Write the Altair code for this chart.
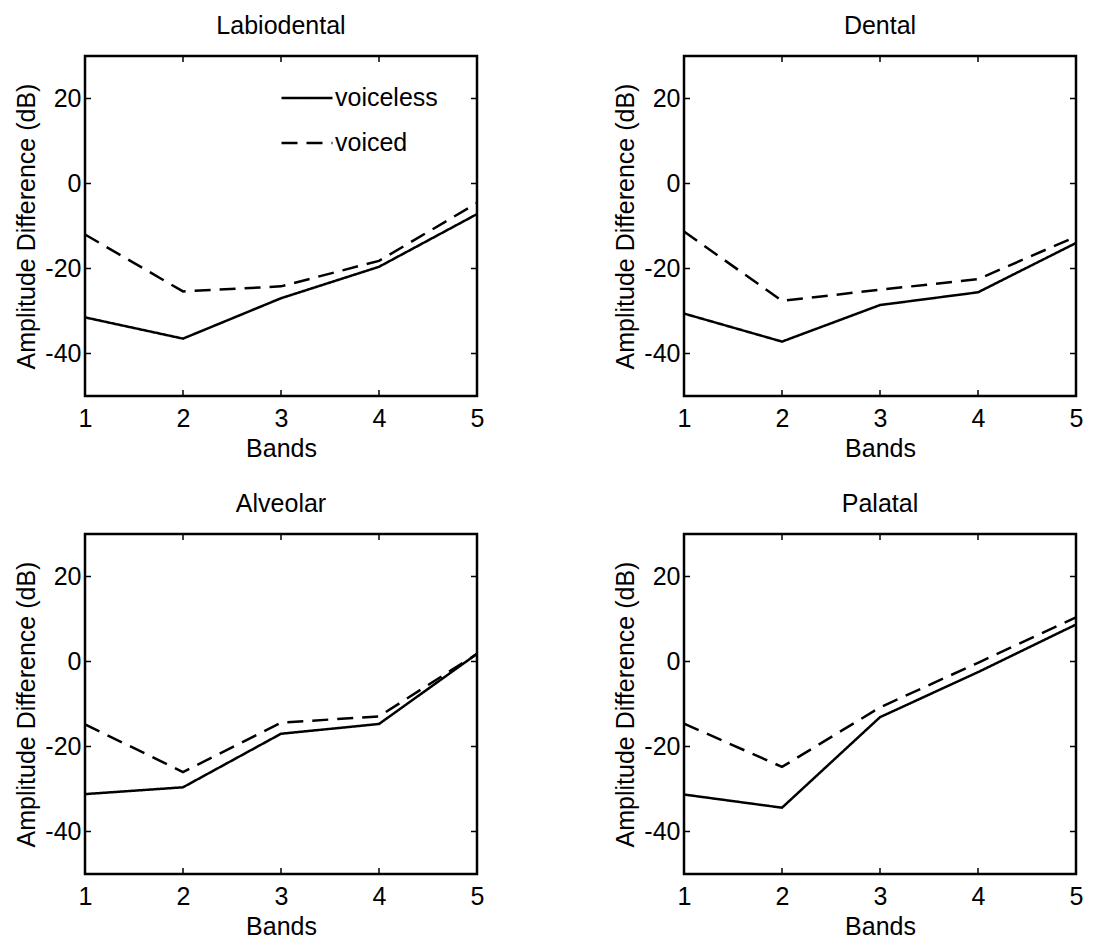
import altair as alt
import pandas as pd

# ---- data ----
bands = [1, 2, 3, 4, 5]
series_names = ["voiceless", "voiced"]
y_ticks = [-40, -20, 0, 20]

labiodental_voiceless = [-31.5, -36.5, -27.0, -19.6, -7.2]
labiodental_voiced = [-12.0, -25.4, -24.2, -18.2, -4.6]
dental_voiceless = [-30.6, -37.2, -28.6, -25.6, -14.0]
dental_voiced = [-11.3, -27.6, -25.0, -22.5, -12.5]
alveolar_voiceless = [-31.2, -29.6, -17.0, -14.7, 1.8]
alveolar_voiced = [-14.8, -26.0, -14.4, -12.9, 1.8]
palatal_voiceless = [-31.3, -34.4, -13.1, -2.5, 8.7]
palatal_voiced = [-14.6, -24.8, -10.8, -0.3, 10.4]

panels = [
    ("Labiodental", labiodental_voiceless, labiodental_voiced),
    ("Dental", dental_voiceless, dental_voiced),
    ("Alveolar", alveolar_voiceless, alveolar_voiced),
    ("Palatal", palatal_voiceless, palatal_voiced),
]

W, H = 392, 340
FONT = "Liberation Sans"
FS = 25


def panel(name, voiceless, voiced, show_legend):
    df = pd.DataFrame({
        "band": bands * 2,
        "value": voiceless + voiced,
        "voicing": [series_names[0]] * len(bands) + [series_names[1]] * len(bands),
    })
    x = alt.X("band:Q",
              scale=alt.Scale(domain=[1, 5], nice=False, zero=False),
              axis=alt.Axis(title="Bands", values=bands, format="d",
                            labelFlush=False, labelPadding=10, titlePadding=5))
    y = alt.Y("value:Q",
              scale=alt.Scale(domain=[-50, 30], nice=False, zero=False),
              axis=alt.Axis(title="Amplitude Difference (dB)", values=y_ticks,
                            labelExpr="'' + datum.value", labelPadding=4,
                            titlePadding=5))
    if show_legend:
        legend = alt.Legend(orient="none", legendX=195, legendY=15, title=None,
                            symbolType="stroke", symbolSize=2600,
                            symbolStrokeWidth=2.5, symbolStrokeColor="black",
                            labelFontSize=FS, labelFont=FONT, labelColor="black",
                            labelOffset=1, rowPadding=5)
    else:
        legend = None
    line = alt.Chart(df).mark_line(color="black", strokeWidth=2.5).encode(
        x=x, y=y,
        strokeDash=alt.StrokeDash("voicing:N",
                                  scale=alt.Scale(domain=series_names,
                                                  range=[[1, 0], [16, 9]]),
                                  legend=legend),
    )
    ytick_df = pd.DataFrame({"value": y_ticks})
    xtick_df = pd.DataFrame({"band": bands})
    left = alt.Chart(ytick_df).mark_rule(color="black", strokeWidth=1.5).encode(
        y=y, x=alt.value(0), x2=alt.value(6))
    right = alt.Chart(ytick_df).mark_rule(color="black", strokeWidth=1.5).encode(
        y=y, x=alt.value(W - 6), x2=alt.value(W))
    bottom = alt.Chart(xtick_df).mark_rule(color="black", strokeWidth=1.5).encode(
        x=x, y=alt.value(H - 6), y2=alt.value(H))
    top = alt.Chart(xtick_df).mark_rule(color="black", strokeWidth=1.5).encode(
        x=x, y=alt.value(0), y2=alt.value(6))
    return alt.layer(line, left, right, bottom, top).properties(
        width=W, height=H,
        title=alt.TitleParams(name, fontSize=FS, font=FONT, fontWeight="normal",
                              color="black", offset=16),
    )


charts = [panel(n, a, b, i == 0) for i, (n, a, b) in enumerate(panels)]

chart = alt.concat(*charts, columns=2, spacing={"row": 28, "column": 126}).resolve_scale(
    strokeDash="independent").resolve_legend(strokeDash="independent").configure(
    background="white").configure_view(
    stroke="black", strokeWidth=2.5).configure_axis(
    domain=False, ticks=False, grid=False,
    labelFont=FONT, titleFont=FONT, labelFontSize=FS, titleFontSize=FS,
    labelColor="black", titleColor="black", titleFontWeight="normal",
)

chart.save("out.html", embed_options={"renderer": "svg", "actions": False})
